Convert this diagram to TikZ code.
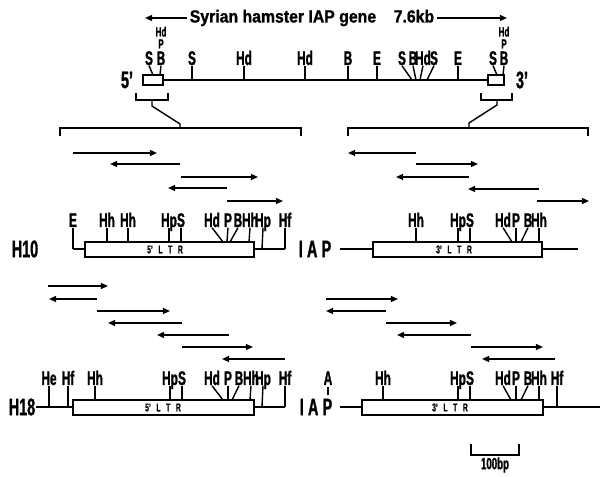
\documentclass[tikz,border=0pt]{standalone}
\usepackage{fontspec}
\setmainfont{Liberation Sans}
\newfontfamily\cfont[FakeStretch=0.6,FakeBold=1.2]{Liberation Sans Bold}
\newfontfamily\tfont[FakeStretch=0.9,FakeBold=1.2]{Liberation Sans Bold}
\usetikzlibrary{arrows.meta}
\tikzset{
  every node/.style={inner sep=0.5pt},
  site/.style={font=\cfont\fontsize{14}{14}\selectfont,anchor=base},
  stack/.style={font=\cfont\fontsize{9.5}{9.5}\selectfont,anchor=base,inner sep=0pt},
  big/.style={font=\cfont\fontsize{17}{17}\selectfont},
  title/.style={font=\tfont\fontsize{12.5}{12.5}\selectfont,inner sep=2pt},
  ltr/.style={font=\cfont\fontsize{8}{8}\selectfont},
  small/.style={font=\cfont\fontsize{11.5}{11.5}\selectfont},
  dna/.style={line width=1.3pt},
  tick/.style={line width=1pt},
  ltrbox/.style={draw,line width=1pt},
  brk/.style={line width=1pt},
  seq/.style={line width=1.1pt,-{Triangle[length=5pt,width=4.2pt]}}
}
\begin{document}
\begin{tikzpicture}[x=0.025cm,y=-0.025cm]
\useasboundingbox (0,0) rectangle (600,477);
% whole gene
\node[title] (ttl) at (312,18) {Syrian hamster IAP gene\quad 7.6kb};
\coordinate (ttlL) at (145,18);
\coordinate (ttlR) at (507,18);
\draw[seq] (ttl.west) -- (ttlL);
\draw[seq] (ttl.east) -- (ttlR);
\coordinate (g5a) at (143,75); \coordinate (g5b) at (163,85);
\coordinate (g3a) at (488,75); \coordinate (g3b) at (504,85);
\draw[ltrbox] (g5a) rectangle (g5b);
\draw[ltrbox] (g3a) rectangle (g3b);
\coordinate (gL) at (163,80);
\coordinate (gR) at (488,80);
\draw[dna] (gL) -- (gR);
\node[big] (end5) at (127,80) {5’};
\node[big] (end3) at (522,80) {3’};
\foreach \lx/\fx/\fy/\t [count=\i] in {149/153/75/S, 161/160/75/B, 192/192/80/S,
    244/244/80/Hd, 305/305/80/Hd, 348/348/80/B, 377/377/80/E, 402/412/80/S,
    413/416/80/B, 423/420/80/Hd, 434/427/80/S, 458/458/80/E, 493/497/75/S, 504/503/75/B}{
  \node[site] (g\i) at (\lx,65) {\t};
  \coordinate (gf\i) at (\fx,\fy);
  \draw[tick] ([yshift=-0.5pt]g\i.base) -- (gf\i);
}
\node[stack] (g2p) at (161,48.5) {P};
\node[stack] (g2h) at (161,36.5) {Hd};
\node[stack] (g14p) at (504,48.5) {P};
\node[stack] (g14h) at (504,36.5) {Hd};
% brackets
\draw[brk] (136,93) -- (136,100) -- (168,100) -- (168,93);
\draw[brk] (152,100) -- (152,106) -- (180,124) -- (180,128);
\draw[brk] (481,93) -- (481,100) -- (512,100) -- (512,93);
\draw[brk] (497,100) -- (497,105) -- (469,123) -- (469,128);
\draw[brk] (60,136) -- (60,128) -- (301,128) -- (301,136);
\draw[brk] (348,136) -- (348,128) -- (588,128) -- (588,136);
% H10, 5' LTR
\foreach \xa/\xb/\y [count=\i] in {73/157/153, 180/110/164, 181/258/177, 227/168/188, 227/283/201}{
  \coordinate (a\i) at (\xa,\y); \coordinate (b\i) at (\xb,\y);
  \draw[seq] (a\i) -- (b\i);
}
\node[big] (h10) at (25,249) {H10};
\coordinate (h10a) at (85,242); \coordinate (h10b) at (254,257);
\draw[ltrbox] (h10a) rectangle (h10b);
\node[ltr] (h10t) at (165,249.5) {5’\enspace L\enspace T\enspace R};
\draw[dna] (73,249) -- (85,249);
\draw[dna] (254,249) -- (285,249);
\foreach \lx/\fx/\fy/\t [count=\i] in {73/73/249/E, 107/107/242/Hh, 128/128/242/Hh,
    169/169/242/Hp, 181/181/242/S, 212/223/242/Hd, 228/227/242/P, 238/230/242/B,
    250/249/242/Hh, 263/262/249/Hp, 285/285/249/Hf}{
  \node[site] (p\i) at (\lx,227) {\t};
  \coordinate (pf\i) at (\fx,\fy);
  \draw[tick] ([yshift=-0.5pt]p\i.base) -- (pf\i);
}
% H10, 3' LTR
\foreach \xa/\xb/\y [count=\i] in {416/348/153, 416/478/164, 469/396/177, 539/468/189, 537/589/201}{
  \coordinate (a\i) at (\xa,\y); \coordinate (b\i) at (\xb,\y);
  \draw[seq] (a\i) -- (b\i);
}
\node[big] (i10) at (315,249) {I\hspace{3pt}A\hspace{3pt}P};
\coordinate (i10a) at (373,242); \coordinate (i10b) at (542,257);
\draw[ltrbox] (i10a) rectangle (i10b);
\node[ltr] (i10t) at (454,249.5) {3’\enspace L\enspace T\enspace R};
\draw[dna] (340,249) -- (373,249);
\draw[dna] (542,249) -- (578,249);
\foreach \lx/\fx/\fy/\t [count=\i] in {416/416/242/Hh, 458/458/242/Hp, 470/470/242/S,
    503/512/242/Hd, 516/516/242/P, 528/521/242/B, 539/539/242/Hh}{
  \node[site] (q\i) at (\lx,227) {\t};
  \coordinate (qf\i) at (\fx,\fy);
  \draw[tick] ([yshift=-0.5pt]q\i.base) -- (qf\i);
}
% H18, 5' LTR
\foreach \xa/\xb/\y [count=\i] in {48/108/286, 97/49/299, 97/170/311, 182/108/323,
    229/157/335, 182/253/347, 285/222/359}{
  \coordinate (a\i) at (\xa,\y); \coordinate (b\i) at (\xb,\y);
  \draw[seq] (a\i) -- (b\i);
}
\node[big] (h18) at (22,407) {H18};
\coordinate (h18a) at (73,400); \coordinate (h18b) at (254,415);
\draw[ltrbox] (h18a) rectangle (h18b);
\node[ltr] (h18t) at (163,407.5) {5’\enspace L\enspace T\enspace R};
\coordinate (h18l) at (73,407);
\draw[dna] (h18.east) -- (h18l);
\draw[dna] (254,407) -- (285,407);
\foreach \lx/\fx/\fy/\t [count=\i] in {49/49/407/He, 68/68/407/Hf, 95/95/400/Hh,
    170/170/400/Hp, 182/182/400/S, 212/223/400/Hd, 228/228/400/P, 239/232/400/B,
    251/250/400/Hh, 263/262/407/Hp, 285/285/407/Hf}{
  \node[site] (r\i) at (\lx,385) {\t};
  \coordinate (rf\i) at (\fx,\fy);
  \draw[tick] ([yshift=-0.5pt]r\i.base) -- (rf\i);
}
% H18, 3' LTR
\foreach \xa/\xb/\y [count=\i] in {326/398/299, 386/326/311, 386/457/323, 471/397/335,
    471/543/347, 555/482/359}{
  \coordinate (a\i) at (\xa,\y); \coordinate (b\i) at (\xb,\y);
  \draw[seq] (a\i) -- (b\i);
}
\node[big] (i18) at (316,407) {I\hspace{3pt}A\hspace{3pt}P};
\coordinate (i18a) at (362,400); \coordinate (i18b) at (543,415);
\draw[ltrbox] (i18a) rectangle (i18b);
\node[ltr] (i18t) at (450,407.5) {3’\enspace L\enspace T\enspace R};
\draw[dna] (340,407) -- (362,407);
\draw[dna] (543,407) -- (600,407);
\node[site] (sA) at (328,385) {A};
\coordinate (sAf) at (328,395);
\draw[tick] ([yshift=-1.5pt]sA.base) -- (sAf);
\foreach \lx/\fx/\fy/\t [count=\i] in {383/383/400/Hh, 458/458/400/Hp, 470/470/400/S,
    503/511/400/Hd, 516/516/400/P, 528/521/400/B, 539/539/400/Hh, 557/557/407/Hf}{
  \node[site] (s\i) at (\lx,385) {\t};
  \coordinate (sf\i) at (\fx,\fy);
  \draw[tick] ([yshift=-0.5pt]s\i.base) -- (sf\i);
}
% scale
\draw[brk] (471,444) -- (471,455) -- (519,455) -- (519,444);
\node[small] (bp) at (495,465) {100bp};
\end{tikzpicture}
\end{document}
